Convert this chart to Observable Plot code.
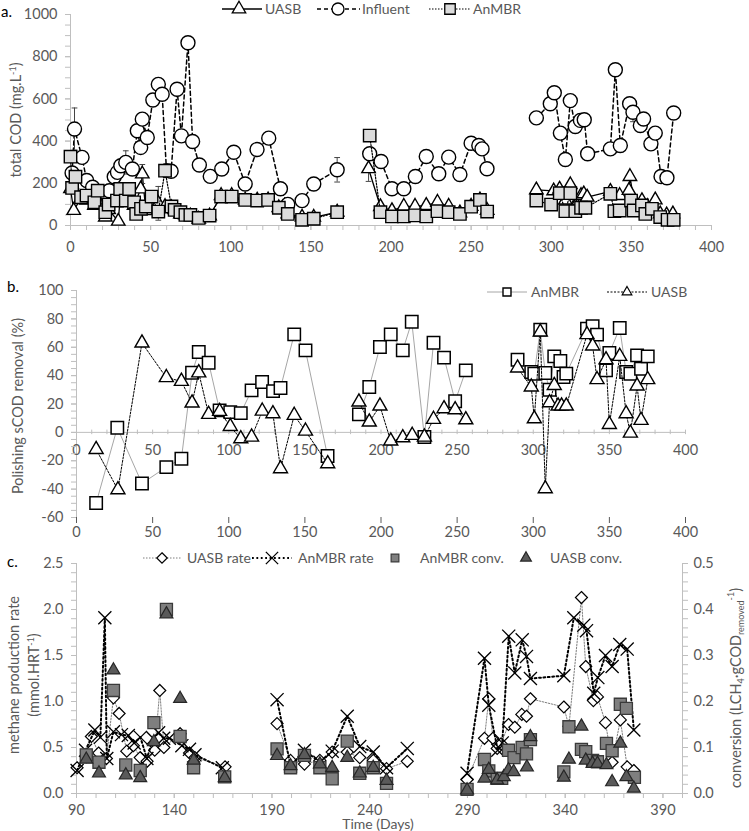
<!DOCTYPE html>
<html><head><meta charset="utf-8">
<script src="https://cdn.jsdelivr.net/npm/d3@7"></script>
<script src="https://cdn.jsdelivr.net/npm/@observablehq/plot@0.6"></script>
<style>
body{margin:0;background:#fff;font-family:Lato,sans-serif;}
#wrap{position:relative;width:749px;height:831px;overflow:hidden;background:#fff;}
#wrap > svg{position:absolute;left:0;}
</style></head>
<body><div id="wrap"></div>
<script>
// ---------- Panel a: total COD (mg/L) [day, value] ----------
const aUasb = [[0,174],[2,71],[6.6,130],[10,120],[14.9,95],[17,120],[21.7,40],[23.8,75],[29.8,20],[31,130],[34.5,110],[36.6,120],[39.7,95],[43.8,173],[44.8,244],[47,70],[50.6,115],[54.8,105],[59,90],[63,85],[65,75],[68.6,55],[71.7,50],[74.8,45],[80,30],[86.8,45],[94,142],[100.6,142],[109,120],[116.5,120],[123.3,121],[130,84],[135.6,55],[144.5,40],[151.8,39],[166.4,63],
  [186,269],[193.4,89],[200.6,70],[208,91],[215,91],[222,95],[229,110],[236,91],[243,60],[250,91],[255.5,121],[260,71],
  [290.7,169],[301.5,164],[305.2,172],[308.8,120],[311.9,193],[315,90],[318.6,142],[320.3,150],[322.4,134],[336.9,162],[342.7,142],[348.5,166],[349.1,232],[352,100],[356.6,118],[360,90],[364.9,121],[368,55],[372,50],[375.9,55]];
const aInfluent = [[1,249],[2.5,457],[7.2,323],[10.1,213],[13.8,181],[24.2,165],[27.3,231],[29.3,252],[31.4,283],[34.5,299],[38.6,268],[41.7,449],[43.8,370],[44.8,504],[47.9,417],[51.4,595],[54.8,669],[57.2,622],[59.9,260],[62.8,257],[66.5,646],[69.2,425],[73.3,866],[76.2,398],[80.4,287],[87.2,233],[94.4,268],[101.9,347],[109,197],[116.4,360],[123.7,414],[131,174],[135.6,100],[144.5,118],[151.8,197],[166.4,264],
  [186.7,340],[193.8,303],[200.6,174],[208,174],[215.2,232],[222,327],[229.8,245],[236,324],[243,242],[250,390],[254.8,379],[256.8,363],[259.9,269],
  [290.7,510],[299.4,577],[301.9,629],[305.7,438],[308.8,313],[311.9,592],[315,469],[318.2,498],[320.6,501],[322.7,340],[336.9,363],[340,738],[343.1,379],[348.9,577],[351,537],[355.6,474],[357.6,505],[362.2,387],[364.9,438],[368.5,232],[372.2,226],[376.4,533]];
const aAnmbr = [[0,326],[1,178],[3.1,231],[6.6,134],[10,142],[14.9,110],[17,165],[21.7,63],[23.8,99],[29,118],[31,173],[34.5,118],[36.6,173],[39.7,110],[41,55],[44,79],[47,90],[50.6,137],[54.8,66],[59,260],[63,90],[65,74],[68.6,63],[71.7,50],[74.8,50],[80,36],[86.8,47],[94,137],[100.6,137],[109,121],[116.5,118],[123.3,121],[130,84],[135.6,55],[144.5,27],[151.8,32],[166.4,63],
  [186.7,426],[193.4,63],[200.6,43],[208,43],[215,48],[222,43],[229,68],[236,63],[243,55],[250,89],[255.5,121],[260,66],
  [290.7,118],[299.9,99],[305.3,153],[308.8,68],[311.9,153],[315,68],[318.6,84],[321.3,84],[336.9,150],[339.4,68],[342.7,71],[349.8,118],[351.4,71],[356.6,95],[358.7,55],[362.8,79],[368,40],[372.6,27],[376.4,27]];
// error bars [day, value, sd]
const aErrInfluent = [[2.5,457,100],[34.5,299,55],[166.4,264,58],[222,327,25],[343.1,379,30],[351,537,45]];
const aErrUasb = [[44.8,244,45],[54.8,105,80],[186,269,60]];
const aXTicks = d3.range(0,401,50);
const aYTicks = d3.range(0,1001,200);

// ---------- Panel b: polishing sCOD removal (%) ----------
const bAnmbr = [[12.9,-49.8],[26.8,3.3],[43,-36],[59,-24.5],[68.9,-18.6],[75.9,42],[80.3,56.6],[86.8,49.1],[94,15.5],[101,14.3],[107.9,13.6],[115,29.6],[121.9,35.5],[129.1,29.1],[134,31.3],[143,69.1],[150.4,57.8],[164.9,-16.7],
  [185.5,12.7],[192.3,32],[199.3,60.2],[206.4,69.1],[214.3,57.8],[220.2,78],[228.5,-3.3],[234.5,63.2],[241.4,52.7],[248.7,21.9],[255.7,43.7],
  [289.7,51.2],[298.7,42.6],[300.7,41.3],[304.6,72.4],[307.9,41.8],[310.7,30],[313.8,53.6],[317.8,50.3],[319.9,39],[321.7,41.4],[335.3,73.1],[339,74.8],[341.9,68.9],[347.8,43.7],[350,55.9],[356.8,73.6],[361,42.6],[363.8,41.3],[368.2,54.3],[370.8,44.9],[375.2,53.6]];
const bUasb = [[12.9,-12],[27.2,-40.4],[43,63],[59,38.6],[68.9,36],[75.9,20.7],[80.3,42],[86.8,12.7],[94,14.8],[101,4.2],[107.9,-4.5],[115,-3.3],[122,15],[129,13.2],[134,-25.6],[143,12],[150.4,0.9],[165,-22.1],
  [185.5,21.4],[192.3,7.3],[199.3,18.6],[206.4,-6.1],[214.3,-3.8],[220.5,-2.1],[228.5,-3.3],[234.5,9.2],[241.4,16.7],[248.7,16],[255.7,8.9],
  [289.7,45.4],[298.7,32],[300.7,9.6],[304.6,70.8],[307.9,-39.7],[310.7,20.9],[313.8,33.1],[316.3,18.6],[318.6,18.6],[321.7,18.6],[335.3,68.9],[339,60.9],[341.9,37.2],[347.8,51.2],[350,5.6],[356.8,53.6],[361,13.2],[363.8,-0.5],[368.2,32.7],[370.8,8.5],[375.2,37.2]];
const bXTicks = d3.range(0,401,50);
const bYTicks = d3.range(-60,101,20);

// ---------- Panel c: methane production ----------
const cUasbRate = [[90.3,0.28],[95,0.4],[97.6,0.62],[101.3,0.44],[105.3,0.38],[108.9,1.04],[111.8,0.87],[115.7,0.46],[119.1,0.52],[122.6,0.39],[126.1,0.35],[130,0.47],[132.6,1.12],[134.7,0.5],[143,0.65],[147.8,0.44],[150.6,0.39],[166,0.29],
  [192.6,0.76],[199.5,0.36],[206.6,0.32],[214.5,0.36],[220.8,0.45],[228.5,0.45],[234.9,0.39],[241.8,0.36],[248.6,0.27],[259.2,0.35],
  [289.8,0.15],[298.7,0.6],[300.9,1.03],[303,0.6],[305.2,0.49],[307.2,0.54],[311,0.75],[314.2,0.72],[317.8,0.86],[320.2,0.84],[322.2,1.03],[339.3,0.94],[341.9,0.73],[348.3,2.13],[350.5,1.38],[354.4,1.01],[356.5,1.05],[360.6,0.77],[364,0.34],[368.2,0.8],[371.7,0.29],[375.1,0.25]];
const cAnmbrRate = [[90.3,0.25],[94.6,0.47],[99.4,0.69],[102.2,0.61],[104.5,1.91],[105.5,0.38],[108.9,0.67],[113,0.64],[116.5,0.63],[119.5,0.55],[122.7,0.61],[126,0.38],[129.2,0.6],[132,0.66],[134.6,0.6],[137.5,0.6],[143.9,0.52],[147.8,0.48],[150.6,0.42],[164.6,0.28],
  [192.6,1.02],[199.5,0.3],[206.6,0.47],[214.5,0.34],[220.8,0.46],[228.5,0.84],[234.9,0.51],[241.8,0.45],[248.6,0.28],[259.2,0.49],
  [289.8,0.22],[298.7,1.47],[300.9,0.96],[305.5,0.47],[307.8,0.55],[311.1,1.71],[314.2,1.31],[318,1.67],[320.2,1.49],[322.2,1.25],[339.3,1.28],[344.4,1.91],[349.5,1.83],[350.9,1.77],[354.6,1.09],[356.7,1.26],[360.6,1.5],[364,1.38],[367.9,1.62],[371.7,1.57],[375.1,0.69]];
// conversion (L CH4 / g COD removed), right axis
const cAnmbrConv = [[95,0.084],[101.5,0.068],[108.9,0.224],[115.2,0.062],[122.6,0.05],[129.6,0.154],[136,0.4],[143,0.124],[149.9,0.056],[165.8,0.036],
  [192.6,0.097],[199.5,0.056],[206.6,0.083],[214.5,0.056],[220.8,0.032],[228.5,0.114],[234.9,0.044],[241.8,0.056],[248.6,0.022],
  [289.8,0.009],[298.7,0.074],[300.9,0.049],[305.2,0.033],[307.5,0.033],[311,0.094],[313.8,0.078],[318,0.1],[320.2,0.086],[322.2,0.117],[339.3,0.047],[341.9,0.145],[348.3,0.096],[350.5,0.091],[354,0.072],[356.5,0.069],[361.1,0.109],[364,0.093],[368.2,0.194],[371.3,0.185],[375.4,0.035]];
const cUasbConv = [[95,0.074],[101.5,0.044],[108.9,0.268],[115.2,0.04],[122.6,0.034],[129.6,0.112],[136,0.39],[143,0.206],[149.9,0.072],[165.8,0.034],
  [192.6,0.082],[199.5,0.06],[206.6,0.084],[214.5,0.064],[220.8,0.056],[228.5,0.078],[234.9,0.044],[241.8,0.056],[248.6,0.028],
  [289.8,0.007],[298.7,0.033],[300.9,0.052],[305.2,0.029],[308.6,0.036],[311,0.051],[313.6,0.047],[320.4,0.057],[322.2,0.123],[339.3,0.035],[341.9,0.074],[348.3,0.146],[350.5,0.072],[354,0.065],[356.5,0.065],[361.1,0.062],[364,0.025],[368.2,0.109],[371.3,0.036],[375.1,0.011]];
const cXTicks = d3.range(90,391,50);
const cYTicks = [0,0.5,1,1.5,2,2.5];
const convPerRate = 0.2; // right axis 0.5 aligned with left axis 2.5

// ---------- styling ----------
const AX = "#bfbfbf", TX = "#595959";
const FONT = "Lato, sans-serif";
const seg = d => (d[0] < 175 ? 1 : d[0] < 275 ? 2 : 3);
const X = d => d[0], Y = d => d[1];
const style = {fontFamily: FONT, fontSize: "14.5px", color: TX, background: "transparent", overflow: "visible"};
const wrap = document.getElementById("wrap");
function place(svg, top){ svg.style.top = top + "px"; wrap.appendChild(svg); }
const plain = d => String(d);

// Panel a
const pa = Plot.plot({
  width: 749, height: 262, marginLeft: 70, marginRight: 38, marginTop: 14, marginBottom: 37,
  x: {domain: [0, 400]}, y: {domain: [0, 1000]}, style,
  marks: [
    Plot.ruleY([0], {stroke: AX}),
    Plot.ruleX([0], {stroke: AX}),
    Plot.axisX(d3.range(0,401,10), {tickSize: 5, tickFormat: () => "", stroke: AX, label: null}),
    Plot.axisX(aXTicks, {tickSize: 5, tickPadding: 11, tickFormat: plain, stroke: AX, fill: TX, label: null}),
    Plot.axisY(d3.range(0,1001,50), {tickSize: 5, tickFormat: () => "", stroke: AX, label: null}),
    Plot.axisY(aYTicks, {tickSize: 5, tickPadding: 8, tickFormat: plain, stroke: AX, fill: TX, label: null}),
    Plot.line(aUasb, {x: X, y: Y, z: seg, stroke: "black", strokeWidth: 1.3}),
    Plot.ruleX(aErrUasb, {x: X, y1: d => d[1]-d[2], y2: d => d[1]+d[2], stroke: "#444"}),
    Plot.link(aErrUasb, {x1: d => d[0]-1.8, x2: d => d[0]+1.8, y1: d => d[1]+d[2], y2: d => d[1]+d[2], stroke: "#444"}),
    Plot.link(aErrUasb, {x1: d => d[0]-1.8, x2: d => d[0]+1.8, y1: d => d[1]-d[2], y2: d => d[1]-d[2], stroke: "#444"}),
    Plot.dot(aUasb, {x: X, y: Y, symbol: "triangle", r: 5, fill: "white", stroke: "black", strokeWidth: 1.4}),
    Plot.line(aInfluent, {x: X, y: Y, z: seg, stroke: "black", strokeWidth: 1.5, strokeDasharray: "4,3"}),
    Plot.ruleX(aErrInfluent, {x: X, y1: d => d[1]-d[2], y2: d => d[1]+d[2], stroke: "#444"}),
    Plot.link(aErrInfluent, {x1: d => d[0]-1.8, x2: d => d[0]+1.8, y1: d => d[1]+d[2], y2: d => d[1]+d[2], stroke: "#444"}),
    Plot.link(aErrInfluent, {x1: d => d[0]-1.8, x2: d => d[0]+1.8, y1: d => d[1]-d[2], y2: d => d[1]-d[2], stroke: "#444"}),
    Plot.dot(aInfluent, {x: X, y: Y, symbol: "circle", r: 7, fill: "white", stroke: "black", strokeWidth: 1.4}),
    Plot.line(aAnmbr, {x: X, y: Y, z: seg, stroke: "black", strokeWidth: 1.2, strokeDasharray: "1.5,1.5"}),
    Plot.dot(aAnmbr, {x: X, y: Y, symbol: "square", r: 7, fill: "#dcdcdc", stroke: "black", strokeWidth: 1.4})
  ]
});
place(pa, 0);

// Panel b
const pb = Plot.plot({
  width: 749, height: 268, marginLeft: 76, marginRight: 64, marginTop: 28, marginBottom: 13,
  x: {domain: [0, 400]}, y: {domain: [-60, 100]}, style,
  marks: [
    Plot.ruleY([0], {stroke: AX}),
    Plot.ruleX([0], {stroke: AX}),
    Plot.ruleX(d3.range(10,401,10), {x: d => d, y1: -1.6, y2: 1.6, stroke: AX}),
    Plot.text(bXTicks, {x: d => d, y: () => 0, dy: 18, fill: TX}),
    Plot.axisY(d3.range(-60,101,5), {tickSize: 5, tickFormat: () => "", stroke: AX, label: null}),
    Plot.axisY(bYTicks, {tickSize: 5, tickPadding: 8, tickFormat: plain, stroke: AX, fill: TX, label: null}),
    Plot.line(bAnmbr, {x: X, y: Y, z: seg, stroke: "#a6a6a6", strokeWidth: 1}),
    Plot.dot(bAnmbr, {x: X, y: Y, symbol: "square", r: 7, fill: "white", stroke: "black", strokeWidth: 1.5}),
    Plot.line(bUasb, {x: X, y: Y, z: seg, stroke: "black", strokeWidth: 1, strokeDasharray: "2,1.5"}),
    Plot.dot(bUasb, {x: X, y: Y, symbol: "triangle", r: 5.2, fill: "white", stroke: "black", strokeWidth: 1.4})
  ]
});
place(pb, 262);

// Panel c
const pc = Plot.plot({
  width: 749, height: 301, marginLeft: 76, marginRight: 67, marginTop: 33, marginBottom: 38,
  x: {domain: [90, 400]}, y: {domain: [0, 2.5]}, style,
  marks: [
    Plot.ruleY([0], {stroke: AX}),
    Plot.ruleX([90], {stroke: AX}),
    Plot.ruleX([400], {stroke: AX}),
    Plot.axisX(d3.range(90,401,10), {tickSize: 5, tickFormat: () => "", stroke: AX, label: null}),
    Plot.axisX(cXTicks, {tickSize: 5, tickPadding: 6, tickFormat: plain, stroke: AX, fill: TX, label: null}),
    Plot.axisY(d3.range(0,26).map(i => i/10), {tickSize: 5, tickFormat: () => "", stroke: AX, label: null}),
    Plot.axisY(cYTicks, {tickSize: 5, tickPadding: 8, tickFormat: d3.format(".1f"), stroke: AX, fill: TX, label: null}),
    Plot.axisY(d3.range(0,26).map(i => i/10), {anchor: "right", tickSize: 5, tickFormat: () => "", stroke: AX, label: null}),
    Plot.axisY(cYTicks, {anchor: "right", tickSize: 5, tickPadding: 6, tickFormat: d => (d*convPerRate).toFixed(1), stroke: AX, fill: TX, label: null}),
    Plot.line(cUasbRate, {x: X, y: Y, z: seg, stroke: "#7f7f7f", strokeWidth: 1, strokeDasharray: "1.5,1.5"}),
    Plot.dot(cUasbRate, {x: X, y: Y, symbol: "diamond2", r: 5.4, fill: "white", stroke: "black", strokeWidth: 1.2}),
    Plot.line(cAnmbrRate, {x: X, y: Y, z: seg, stroke: "black", strokeWidth: 2, strokeDasharray: "1.8,2.6"}),
    Plot.dot(cAnmbrRate, {x: X, y: Y, symbol: "times", r: 6, stroke: "black", strokeWidth: 1.3}),
    Plot.dot(cAnmbrConv, {x: X, y: d => d[1] / convPerRate, symbol: "square", r: 6.8, fill: "#7f7f7f", stroke: "#3a3a3a", strokeWidth: 1.3}),
    Plot.dot(cUasbConv, {x: X, y: d => d[1] / convPerRate, symbol: "triangle", r: 4.8, fill: "#5a5a5a", stroke: "#262626", strokeWidth: 1.2})
  ]
});
place(pc, 530);

// ---------- overlay: panel letters, axis titles, legends ----------
const ov = d3.select(wrap).append("svg").attr("width", 749).attr("height", 831)
  .style("position","absolute").style("top","0px").style("left","0px")
  .attr("font-family", FONT).attr("font-size", 14);

function label(x, y, parts, opts = {}){
  const t = ov.append("text").attr("fill", opts.fill || TX)
    .attr("text-anchor", opts.anchor || "start")
    .attr("transform", `translate(${x},${y})` + (opts.rotate ? ` rotate(${opts.rotate})` : ""));
  if (opts.size) t.attr("font-size", opts.size);
  parts.forEach(p => {
    const s = typeof p === "string" ? {t: p} : p;
    const sp = t.append("tspan").text(s.t);
    if (s.dy) sp.attr("dy", s.dy);
    if (s.size) sp.attr("font-size", s.size);
  });
  return t;
}
label(1, 17, ["a."], {fill: "#000", size: 15});
label(7, 292, ["b."], {fill: "#000", size: 15});
label(7, 567, ["c."], {fill: "#000", size: 15});

label(21, 120, ["total COD (mg.L", {t: "-1", dy: -5, size: 9}, {t: ")", dy: 5}], {rotate: -90, anchor: "middle", size: 14.5});
label(23, 406, ["Polishing sCOD removal (%)"], {rotate: -90, anchor: "middle", size: 14.5});
label(19, 675, ["methane production rate"], {rotate: -90, anchor: "middle", size: 14.5});
label(39, 675, ["(mmol.HRT", {t: "-1", dy: -5, size: 9}, {t: ")", dy: 5}], {rotate: -90, anchor: "middle", size: 14.5});
label(741, 688, ["conversion (LCH", {t: "4", dy: 3, size: 9}, {t: "·gCOD", dy: -3}, {t: "removed", dy: 3, size: 9}, {t: "-1", dy: -10, size: 9}, {t: ")", dy: 7}], {rotate: -90, anchor: "middle", size: 14.5});
label(378, 829, ["Time (Days)"], {anchor: "middle", size: 14});

function sym(type, x, y, size, fill, stroke, sw){
  ov.append("path").attr("d", d3.symbol(type, size)()).attr("transform", `translate(${x},${y})`)
    .attr("fill", fill).attr("stroke", stroke).attr("stroke-width", sw);
}
function seg2(x1, x2, y, stroke, sw, dash){
  const l = ov.append("line").attr("x1", x1).attr("x2", x2).attr("y1", y).attr("y2", y)
    .attr("stroke", stroke).attr("stroke-width", sw);
  if (dash) l.attr("stroke-dasharray", dash);
}
// legend a
let ly = 9;
seg2(222, 262, ly, "black", 1.3); sym(d3.symbolTriangle, 239, ly, Math.PI*25, "white", "black", 1.3); label(265, ly+5, ["UASB"]);
seg2(317, 360, ly, "black", 1.5, "4,3"); sym(d3.symbolCircle, 338, ly, Math.PI*36, "white", "black", 1.3); label(362, ly+5, ["Influent"]);
seg2(429, 470, ly, "black", 1.2, "1.5,1.5"); sym(d3.symbolSquare, 450, ly, 110, "#dcdcdc", "black", 1.3); label(473, ly+5, ["AnMBR"]);
// legend b
ly = 292;
seg2(487, 527, ly, "#a6a6a6", 1); sym(d3.symbolSquare, 507, ly, 64, "white", "black", 1.4); label(531, ly+5, ["AnMBR"]);
seg2(607, 647, ly, "black", 1, "2,1.5"); sym(d3.symbolTriangle, 627, ly, 40, "white", "black", 1.2); label(651, ly+5, ["UASB"]);
// legend c
ly = 558;
seg2(143, 182, ly, "#7f7f7f", 1, "1.5,1.5"); sym(d3.symbolDiamond2, 162, ly, 70, "white", "black", 1.2); label(187, ly+5, ["UASB rate"]);
seg2(252, 292, ly, "black", 2, "1.8,2.6"); sym(d3.symbolTimes, 272, ly, 100, "none", "black", 1.3); label(298, ly+5, ["AnMBR rate"]);
sym(d3.symbolSquare, 395, ly, 60, "#7f7f7f", "#3a3a3a", 1.2); label(420, ly+5, ["AnMBR conv."]);
sym(d3.symbolTriangle, 526, ly, 50, "#5a5a5a", "#262626", 1.2); label(550, ly+5, ["UASB conv."]);
</script>
</body></html>
